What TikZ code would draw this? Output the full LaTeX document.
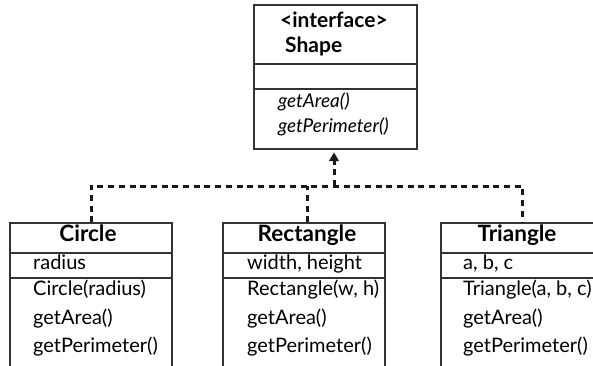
\documentclass[tikz,border=0pt]{standalone}
\usepackage{fontspec}
\setmainfont{Lato}
\usetikzlibrary{arrows.meta}
\begin{document}
\begin{tikzpicture}[x=1pt,y=1pt,
  box/.style={draw=black!80, line width=1.3pt},
  conn/.style={draw=black!90, line width=3pt, dash pattern=on 6pt off 4.7pt},
  txt/.style={inner sep=0pt, anchor=west, text height=0.72em, text depth=0.22em, font=\fontsize{20}{22}\selectfont},
  ttxt/.style={txt, font=\fontsize{19}{21}\selectfont\itshape},
  hdr/.style={inner sep=0pt, text height=0.72em, text depth=0.22em, font=\fontsize{22.5}{24}\selectfont\bfseries},
  thdr/.style={inner sep=0pt, anchor=west, text height=0.72em, text depth=0.22em, font=\fontsize{21}{23}\selectfont\bfseries}
]
\clip (0,0) rectangle (593,365);
\fill[white] (0,0) rectangle (593,365);
% interface box
\node[box, rectangle, minimum width=163pt, minimum height=144pt, inner sep=0pt] (shape) at (335.5,288) {};
\draw[box] (shape.west |- 0,301) -- (shape.east |- 0,301);
\draw[box] (shape.west |- 0,276) -- (shape.east |- 0,276);
\node[thdr] (s1) at (280,340) {<interface>};
\node[thdr] (s2) at (285,315) {Shape};
\node[ttxt] (s3) at (278,260) {getArea()};
\node[ttxt] (s4) at (278,235) {getPerimeter()};
% Circle
\node[box, rectangle, minimum width=162pt, minimum height=162pt, inner sep=0pt] (circle) at (91,61) {};
\draw[box] (circle.west |- 0,112) -- (circle.east |- 0,112);
\draw[box] (circle.west |- 0,87) -- (circle.east |- 0,87);
\node[hdr] (c0) at (88,126) {Circle};
\node[txt] (c1) at (33,98) {radius};
\node[txt] (c2) at (33,72) {Circle(radius)};
\node[txt] (c3) at (33,43) {getArea()};
\node[txt] (c4) at (33,15) {getPerimeter()};
% Rectangle
\node[box, rectangle, minimum width=162pt, minimum height=162pt, inner sep=0pt] (rect) at (304,61) {};
\draw[box] (rect.west |- 0,112) -- (rect.east |- 0,112);
\draw[box] (rect.west |- 0,87) -- (rect.east |- 0,87);
\node[hdr] (r0) at (307,126) {Rectangle};
\node[txt] (r1) at (247,98) {width, height};
\node[txt] (r2) at (247,72) {Rectangle(w, h)};
\node[txt] (r3) at (247,43) {getArea()};
\node[txt] (r4) at (247,15) {getPerimeter()};
% Triangle
\node[box, rectangle, minimum width=164pt, minimum height=162pt, inner sep=0pt] (tri) at (523,61) {};
\draw[box] (tri.west |- 0,112) -- (tri.east |- 0,112);
\draw[box] (tri.west |- 0,87) -- (tri.east |- 0,87);
\node[hdr] (t0) at (517,126) {Triangle};
\node[txt] (t1) at (463,98) {a, b, c};
\node[txt] (t2) at (463,72) {Triangle(a, b, c)};
\node[txt] (t3) at (463,43) {getArea()};
\node[txt] (t4) at (463,15) {getPerimeter()};
% connectors
\coordinate (jl) at (91,179);
\coordinate (jr) at (522,179);
\coordinate (jm) at (334,179);
\draw[conn] (circle.north -| jl) -- (jl) -- (jr) -- (tri.north -| jr);
\draw[conn] (rect.north -| 307,0) -- (307,179);
\draw[conn] (jm) -- (334,204);
\fill[black!90] (334,212.5) -- (329,204) -- (339,204) -- cycle;
\end{tikzpicture}
\end{document}
